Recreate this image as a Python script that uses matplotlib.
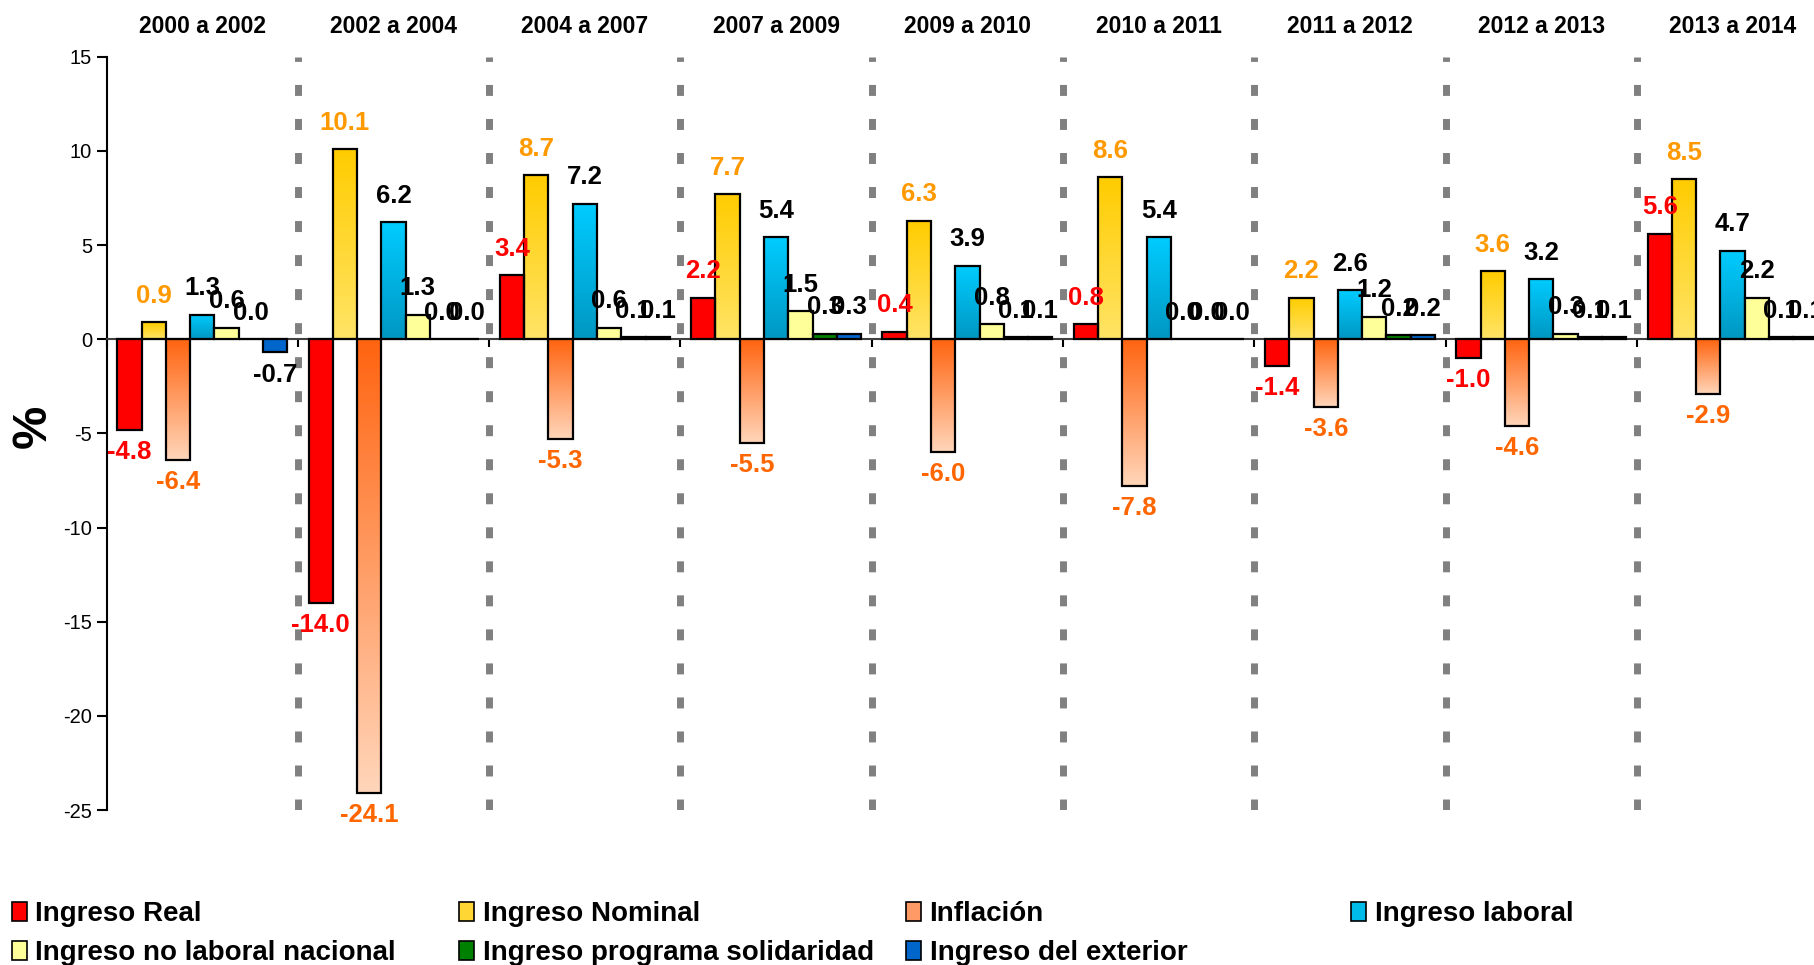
import numpy as np
import matplotlib
matplotlib.use("Agg")
import matplotlib.pyplot as plt
from matplotlib.colors import LinearSegmentedColormap
from matplotlib.patches import Patch
from matplotlib.transforms import blended_transform_factory

plt.rcParams["font.family"] = ["Liberation Sans", "DejaVu Sans"]
plt.rcParams["lines.scale_dashes"] = False
plt.rcParams["axes.unicode_minus"] = False

periods = ["2000 a 2002", "2002 a 2004", "2004 a 2007", "2007 a 2009", "2009 a 2010",
           "2010 a 2011", "2011 a 2012", "2012 a 2013", "2013 a 2014"]

ingreso_real = [-4.8, -14.0, 3.4, 2.2, 0.4, 0.8, -1.4, -1.0, 5.6]
ingreso_nominal = [0.9, 10.1, 8.7, 7.7, 6.3, 8.6, 2.2, 3.6, 8.5]
inflacion = [-6.4, -24.1, -5.3, -5.5, -6.0, -7.8, -3.6, -4.6, -2.9]
ingreso_laboral = [1.3, 6.2, 7.2, 5.4, 3.9, 5.4, 2.6, 3.2, 4.7]
ingreso_no_laboral = [0.6, 1.3, 0.6, 1.5, 0.8, 0.0, 1.2, 0.3, 2.2]
ingreso_solidaridad = [0.0, 0.0, 0.1, 0.3, 0.1, 0.0, 0.2, 0.1, 0.1]
ingreso_exterior = [-0.7, 0.0, 0.1, 0.3, 0.1, 0.0, 0.2, 0.1, 0.1]

series_names = ["Ingreso Real", "Ingreso Nominal", "Inflación", "Ingreso laboral",
                "Ingreso no laboral nacional", "Ingreso programa solidaridad",
                "Ingreso del exterior"]
series_values = [ingreso_real, ingreso_nominal, inflacion, ingreso_laboral,
                 ingreso_no_laboral, ingreso_solidaridad, ingreso_exterior]

# (top colour, bottom colour) - same colour means solid fill
fills = [("#FF0000", "#FF0000"), ("#FFCC00", "#FFE466"), ("#FF6410", "#FFD6BA"),
         ("#00CCFF", "#0097C2"), ("#FFFF99", "#FFFF99"), ("#008000", "#008000"),
         ("#0066CC", "#0066CC")]
legend_colors = ["#FF0000", "#FFD633", "#FF9A66", "#00BCEB", "#FFFF99", "#008000", "#0066CC"]
label_colors = ["#FF0000", "#FF9900", "#FF6600", "black", "black", "black", "black"]

BAR_W = 0.127
START = 0.056


def gradient_fill(ax, bar, top, bottom):
    x0, w = bar.get_x(), bar.get_width()
    y0, h = bar.get_y(), bar.get_height()
    lo, hi = min(y0, y0 + h), max(y0, y0 + h)
    if hi - lo == 0:
        return
    cmap = LinearSegmentedColormap.from_list("g", [bottom, top])
    grad = np.linspace(0, 1, 256).reshape(-1, 1)
    im = ax.imshow(grad, extent=(x0, x0 + w, lo, hi), origin="lower", cmap=cmap,
                   aspect="auto", zorder=2, interpolation="bicubic")
    im.set_clip_path(bar)


def main():
    fig = plt.figure(figsize=(18.14, 9.65), dpi=100)
    ax = fig.add_axes([106.5 / 1814, 1 - 810 / 965, 9 * 191.3 / 1814, 753.3 / 965])

    x = np.arange(len(periods))
    for k, (name, vals) in enumerate(zip(series_names, series_values)):
        top, bottom = fills[k]
        pos = x + START + BAR_W * (k + 0.5)
        solid = top == bottom
        bars = ax.bar(pos, vals, BAR_W, facecolor=top if solid else "none",
                      edgecolor="black", linewidth=1.6, zorder=3)
        if not solid:
            for b in bars:
                gradient_fill(ax, b, top, bottom)
        for px, v in zip(pos, vals):
            off = 19 if v >= 0 else -16
            ax.annotate(f"{v:.1f}", (px, v), xytext=(0, off), textcoords="offset points",
                        ha="center", va="center", fontsize=18.5, fontweight="bold",
                        color=label_colors[k], zorder=5, annotation_clip=False)

    # dashed separators between periods
    ax.vlines(x[1:], -25, 15, colors="#808080", linewidth=5,
              linestyles=[(0, (7.9, 16.6))], zorder=1)
    ax.collections[-1].set_capstyle("butt")

    ax.set_xlim(0, 9)
    ax.set_ylim(-25, 15)
    ax.set_yticks(np.arange(-25, 16, 5))
    ax.tick_params(axis="y", labelsize=14.5, length=7, width=1.5, direction="out")
    ax.set_xticks(np.arange(0, 10))
    ax.set_xticklabels([])
    ax.tick_params(axis="x", length=6, width=1.5, direction="out", color="black")

    ax.spines["top"].set_visible(False)
    ax.spines["right"].set_visible(False)
    ax.spines["bottom"].set_position(("data", 0))
    ax.spines["bottom"].set_color("#404040")
    ax.spines["bottom"].set_linewidth(1.5)
    ax.spines["bottom"].set_zorder(2.5)
    ax.spines["left"].set_linewidth(1.5)

    trans = blended_transform_factory(ax.transData, ax.transAxes)
    for i, p in enumerate(periods):
        ax.text(i + 0.5, 1.04, p, transform=trans, ha="center", va="center",
                fontsize=16.5, fontweight="bold")

    fig.text(33 / 1814, 1 - 426 / 965, "%", rotation=90, ha="center", va="center",
             fontsize=35, fontweight="bold")

    # legend laid out row by row like the original
    col_x = [11.6, 459, 906, 1351]
    row_y = [914, 953]
    for k, name in enumerate(series_names):
        r, c = divmod(k, 4)
        h = Patch(facecolor=legend_colors[k], edgecolor="black", linewidth=1.2)
        fig.legend(handles=[h], labels=[name], loc="center left",
                   bbox_to_anchor=(col_x[c] / 1814, 1 - row_y[r] / 965),
                   frameon=False, borderpad=0, borderaxespad=0, handletextpad=0.3,
                   handlelength=0.55, handleheight=0.7,
                   prop={"weight": "bold", "size": 20})

    fig.savefig("out.png", dpi=100)


if __name__ == "__main__":
    main()
